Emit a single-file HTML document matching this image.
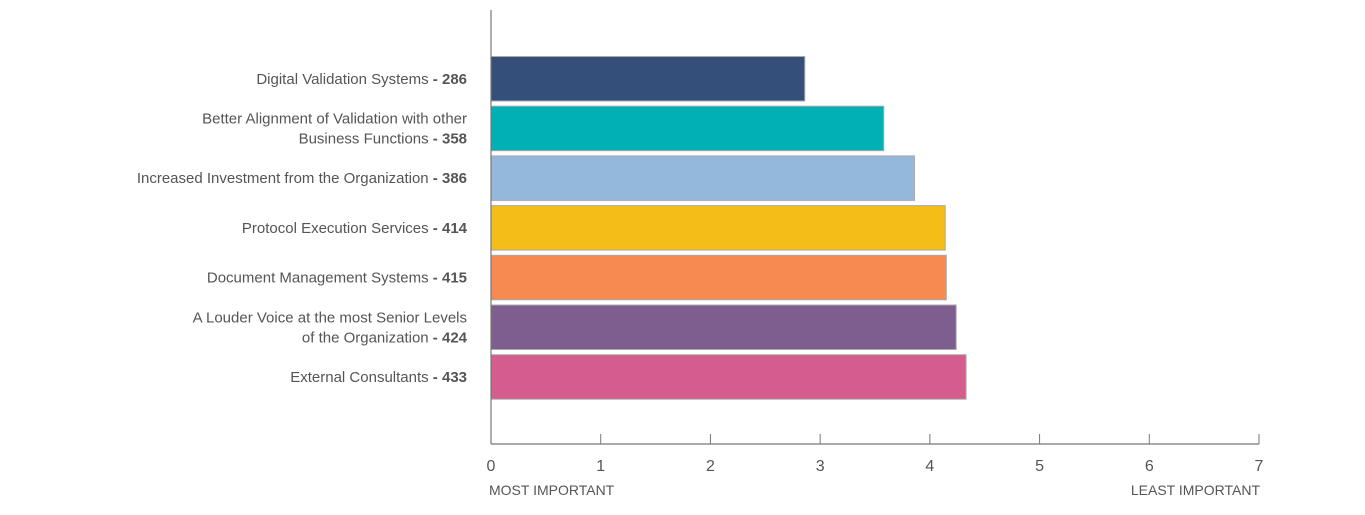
<!DOCTYPE html>
<html><head><meta charset="utf-8"><style>
body{margin:0;background:#fff;width:1365px;height:510px;overflow:hidden}
svg text{font-family:"Liberation Sans",sans-serif;fill:#555}
</style></head><body>
<svg id="chart" width="1365" height="510" xmlns="http://www.w3.org/2000/svg"></svg>
<script>
const categories=["Digital Validation Systems","Better Alignment of Validation with other|Business Functions","Increased Investment from the Organization","Protocol Execution Services","Document Management Systems","A Louder Voice at the most Senior Levels|of the Organization","External Consultants"];
const scores=[286,358,386,414,415,424,433];
const colors=["#34507a","#00b0b5","#93b8dc","#f5bd18","#f58b51","#7d5e8f","#d45d8e"];
const ticks=[0,1,2,3,4,5,6,7];
const x0=491,x1=1259,max=7,axisY=444,top0=56.5,step=49.7,bh=44.5;
const xs=v=>x0+(x1-x0)*v/max;
const svg=document.getElementById('chart');
const NS="http://www.w3.org/2000/svg";
function mk(t,a,txt){const e=document.createElementNS(NS,t);for(const k in a)e.setAttribute(k,a[k]);if(txt!=null)e.textContent=txt;svg.appendChild(e);return e;}
categories.forEach((c,i)=>{
 const y=top0+i*step;
 const r=mk('rect',{x:x0,y:y,width:xs(scores[i]/100)-x0,height:bh,fill:colors[i],stroke:'#aaa','stroke-width':1});
 
 
 const lines=c.split('|');
 const cy=y+bh/2;
 lines.forEach((ln,j)=>{
  const ty=cy+5+(j-(lines.length-1)/2)*20;
  const t=mk('text',{x:467,y:ty,'text-anchor':'end','font-size':15});
  
  
  const s=document.createElementNS(NS,'tspan');s.textContent=ln;t.appendChild(s);
  if(j===lines.length-1){const b=document.createElementNS(NS,'tspan');b.setAttribute('font-weight','bold');b.textContent=' - '+scores[i];t.appendChild(b);}
 });
});
const ya=mk('line',{x1:x0,y1:10,x2:x0,y2:axisY,stroke:'#777','stroke-width':1.2});


const xa=mk('line',{x1:x0,y1:axisY,x2:x1,y2:axisY,stroke:'#777','stroke-width':1.2});


ticks.forEach(v=>{
 const tk=mk('line',{x1:xs(v),y1:axisY-10,x2:xs(v),y2:axisY,stroke:'#777','stroke-width':1});
 
 
 const tl=mk('text',{x:xs(v),y:471,'text-anchor':'middle','font-size':16},String(v));
 
 
});
const a=mk('text',{x:489,y:495,'font-size':14},'MOST IMPORTANT');


const b=mk('text',{x:1260,y:495,'font-size':14,'text-anchor':'end'},'LEAST IMPORTANT');


</script>
</body></html>
